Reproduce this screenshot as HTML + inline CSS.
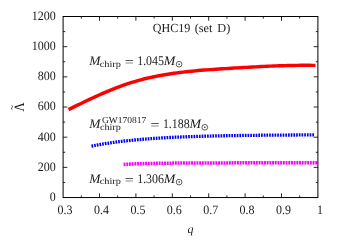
<!DOCTYPE html>
<html><head><meta charset="utf-8"><title>QHC19 (set D)</title>
<style>
html,body{margin:0;padding:0;background:#fff;}
body{width:343px;height:240px;overflow:hidden;}
svg{display:block;will-change:transform;opacity:0.999;}
text{font-family:"Liberation Serif",serif;fill:#1a1a1a;text-rendering:geometricPrecision;}
.it{font-style:italic;}
</style></head><body>
<svg width="343" height="240" viewBox="0 0 343 240">
<path d="M68.50 109.62 L71.51 108.13 L74.52 106.64 L77.54 105.16 L80.55 103.69 L83.56 102.23 L86.57 100.78 L89.59 99.36 L92.60 97.95 L95.61 96.57 L98.62 95.21 L101.63 93.88 L104.65 92.58 L107.66 91.31 L110.67 90.07 L113.68 88.87 L116.70 87.70 L119.71 86.58 L122.72 85.49 L125.73 84.44 L128.74 83.43 L131.76 82.46 L134.77 81.54 L137.78 80.66 L140.79 79.82 L143.80 79.04 L146.82 78.29 L149.83 77.59 L152.84 76.94 L155.85 76.32 L158.87 75.74 L161.88 75.19 L164.89 74.68 L167.90 74.19 L170.91 73.73 L173.93 73.29 L176.94 72.88 L179.95 72.50 L182.96 72.13 L185.98 71.79 L188.99 71.46 L192.00 71.16 L195.01 70.87 L198.02 70.59 L201.04 70.33 L204.05 70.08 L207.06 69.85 L210.07 69.63 L213.09 69.41 L216.10 69.20 L219.11 69.01 L222.12 68.81 L225.13 68.62 L228.15 68.44 L231.16 68.25 L234.17 68.07 L237.18 67.89 L240.20 67.71 L243.21 67.53 L246.22 67.36 L249.23 67.19 L252.24 67.02 L255.26 66.86 L258.27 66.70 L261.28 66.55 L264.29 66.40 L267.30 66.27 L270.32 66.13 L273.33 66.01 L276.34 65.90 L279.35 65.79 L282.37 65.69 L285.38 65.61 L288.39 65.53 L291.40 65.46 L294.41 65.41 L297.43 65.37 L300.44 65.34 L303.45 65.32 L306.46 65.32 L309.48 65.33 L312.49 65.36 L315.50 65.40" fill="none" stroke="#ff0000" stroke-width="3.45" stroke-linejoin="round"/>
<path d="M91.50 146.09 L94.51 145.50 L97.52 144.93 L100.53 144.40 L103.54 143.89 L106.55 143.41 L109.56 142.95 L112.57 142.52 L115.58 142.11 L118.59 141.72 L121.59 141.35 L124.60 141.01 L127.61 140.68 L130.62 140.36 L133.63 140.07 L136.64 139.78 L139.65 139.52 L142.66 139.26 L145.67 139.03 L148.68 138.80 L151.69 138.58 L154.70 138.38 L157.71 138.19 L160.72 138.00 L163.73 137.83 L166.74 137.67 L169.75 137.51 L172.76 137.36 L175.76 137.22 L178.77 137.09 L181.78 136.97 L184.79 136.85 L187.80 136.73 L190.81 136.63 L193.82 136.53 L196.83 136.43 L199.84 136.34 L202.85 136.25 L205.86 136.17 L208.87 136.09 L211.88 136.02 L214.89 135.95 L217.90 135.88 L220.91 135.82 L223.92 135.76 L226.93 135.71 L229.94 135.65 L232.94 135.60 L235.95 135.55 L238.96 135.51 L241.97 135.47 L244.98 135.43 L247.99 135.39 L251.00 135.35 L254.01 135.32 L257.02 135.28 L260.03 135.25 L263.04 135.22 L266.05 135.20 L269.06 135.17 L272.07 135.14 L275.08 135.12 L278.09 135.10 L281.10 135.08 L284.11 135.06 L287.11 135.04 L290.12 135.02 L293.13 135.00 L296.14 134.98 L299.15 134.97 L302.16 134.95 L305.17 134.94 L308.18 134.93 L311.19 134.92 L314.20 134.90" fill="none" stroke="#0000ff" stroke-width="3.3" stroke-dasharray="1.7 1.0" stroke-linejoin="round"/>
<path d="M123.60 164.40 L126.58 164.24 L129.57 164.10 L132.55 163.98 L135.54 163.87 L138.52 163.77 L141.51 163.67 L144.49 163.59 L147.48 163.52 L150.46 163.45 L153.45 163.39 L156.43 163.34 L159.42 163.29 L162.40 163.24 L165.38 163.20 L168.37 163.17 L171.35 163.13 L174.34 163.10 L177.32 163.08 L180.31 163.05 L183.29 163.03 L186.28 163.01 L189.26 163.00 L192.25 162.98 L195.23 162.97 L198.22 162.95 L201.20 162.94 L204.18 162.93 L207.17 162.92 L210.15 162.91 L213.14 162.91 L216.12 162.90 L219.11 162.89 L222.09 162.89 L225.08 162.88 L228.06 162.88 L231.05 162.87 L234.03 162.87 L237.02 162.87 L240.00 162.86 L242.98 162.86 L245.97 162.86 L248.95 162.86 L251.94 162.86 L254.92 162.85 L257.91 162.85 L260.89 162.85 L263.88 162.85 L266.86 162.85 L269.85 162.85 L272.83 162.85 L275.82 162.84 L278.80 162.84 L281.78 162.84 L284.77 162.84 L287.75 162.84 L290.74 162.84 L293.72 162.84 L296.71 162.84 L299.69 162.84 L302.68 162.84 L305.66 162.84 L308.65 162.84 L311.63 162.84 L314.62 162.84 L317.60 162.84" fill="none" stroke="#ff00ff" stroke-width="3.5" stroke-dasharray="1.9 0.8" stroke-linejoin="round"/>
<g stroke="#000" stroke-width="1" fill="none">
<rect x="63.10" y="16.50" width="254.80" height="181.05"/>
<path d="M81.30 197.55v-2.10 M81.30 16.50v2.10 M99.50 197.55v-4.20 M99.50 16.50v4.20 M117.70 197.55v-2.10 M117.70 16.50v2.10 M135.90 197.55v-4.20 M135.90 16.50v4.20 M154.10 197.55v-2.10 M154.10 16.50v2.10 M172.30 197.55v-4.20 M172.30 16.50v4.20 M190.50 197.55v-2.10 M190.50 16.50v2.10 M208.70 197.55v-4.20 M208.70 16.50v4.20 M226.90 197.55v-2.10 M226.90 16.50v2.10 M245.10 197.55v-4.20 M245.10 16.50v4.20 M263.30 197.55v-2.10 M263.30 16.50v2.10 M281.50 197.55v-4.20 M281.50 16.50v4.20 M299.70 197.55v-2.10 M299.70 16.50v2.10 M63.10 182.46h2.10 M317.90 182.46h-2.10 M63.10 167.38h4.20 M317.90 167.38h-4.20 M63.10 152.29h2.10 M317.90 152.29h-2.10 M63.10 137.20h4.20 M317.90 137.20h-4.20 M63.10 122.11h2.10 M317.90 122.11h-2.10 M63.10 107.03h4.20 M317.90 107.03h-4.20 M63.10 91.94h2.10 M317.90 91.94h-2.10 M63.10 76.85h4.20 M317.90 76.85h-4.20 M63.10 61.76h2.10 M317.90 61.76h-2.10 M63.10 46.67h4.20 M317.90 46.67h-4.20 M63.10 31.59h2.10 M317.90 31.59h-2.10 " stroke-width="0.85"/>
</g>
<text x="49.80" y="200.85" font-size="12.8" textLength="6.00" lengthAdjust="spacingAndGlyphs">0</text>
<text x="37.80" y="170.68" font-size="12.8" textLength="18.00" lengthAdjust="spacingAndGlyphs">200</text>
<text x="37.80" y="140.50" font-size="12.8" textLength="18.00" lengthAdjust="spacingAndGlyphs">400</text>
<text x="37.80" y="110.33" font-size="12.8" textLength="18.00" lengthAdjust="spacingAndGlyphs">600</text>
<text x="37.80" y="80.15" font-size="12.8" textLength="18.00" lengthAdjust="spacingAndGlyphs">800</text>
<text x="31.80" y="49.97" font-size="12.8" textLength="24.00" lengthAdjust="spacingAndGlyphs">1000</text>
<text x="31.80" y="19.80" font-size="12.8" textLength="24.00" lengthAdjust="spacingAndGlyphs">1200</text>
<text x="57.60" y="213.5" font-size="12.8" textLength="15.00" lengthAdjust="spacingAndGlyphs">0.3</text>
<text x="94.00" y="213.5" font-size="12.8" textLength="15.00" lengthAdjust="spacingAndGlyphs">0.4</text>
<text x="130.40" y="213.5" font-size="12.8" textLength="15.00" lengthAdjust="spacingAndGlyphs">0.5</text>
<text x="166.80" y="213.5" font-size="12.8" textLength="15.00" lengthAdjust="spacingAndGlyphs">0.6</text>
<text x="203.20" y="213.5" font-size="12.8" textLength="15.00" lengthAdjust="spacingAndGlyphs">0.7</text>
<text x="239.60" y="213.5" font-size="12.8" textLength="15.00" lengthAdjust="spacingAndGlyphs">0.8</text>
<text x="276.00" y="213.5" font-size="12.8" textLength="15.00" lengthAdjust="spacingAndGlyphs">0.9</text>
<text x="316.90" y="213.5" font-size="12.8" textLength="6.00" lengthAdjust="spacingAndGlyphs">1</text>
<text x="190.6" y="232.9" font-size="11.9" text-anchor="middle" class="it">q</text>
<g transform="translate(23.9,106.45) rotate(-90)"><text x="0" y="0" font-size="14.3" text-anchor="middle" transform="translate(-0.4 0) scale(0.88 1)">Λ</text><path d="M-3.3 -11.55 C-2.7 -12.7 -1.9 -12.6 -1.05 -11.9 S0.6 -11.2 1.2 -12.35" fill="none" stroke="#1a1a1a" stroke-width="0.75"/></g>
<text x="152.70" y="31.50" font-size="12.3" textLength="37.60" lengthAdjust="spacingAndGlyphs">QHC19</text><text x="194.70" y="31.50" font-size="12.3" textLength="17.80" lengthAdjust="spacingAndGlyphs">(set</text><text x="217.30" y="31.50" font-size="12.3" textLength="13.00" lengthAdjust="spacingAndGlyphs">D)</text>
<text x="89.30" y="64.90" font-size="13.0" textLength="11.20" lengthAdjust="spacingAndGlyphs" class="it">M</text><text x="99.70" y="66.50" font-size="9.1" textLength="21.20" lengthAdjust="spacingAndGlyphs">chirp</text><text x="124.70" y="65.70" font-size="13.0" textLength="9.00" lengthAdjust="spacingAndGlyphs">=</text><text x="137.20" y="64.90" font-size="13.2" textLength="26.80" lengthAdjust="spacingAndGlyphs">1.045</text><text x="163.70" y="64.90" font-size="13.0" textLength="11.60" lengthAdjust="spacingAndGlyphs" class="it">M</text><circle cx="179.10" cy="64.20" r="2.85" fill="none" stroke="#1a1a1a" stroke-width="0.7"/><circle cx="179.10" cy="64.20" r="0.75" fill="#1a1a1a"/>
<text x="89.30" y="128.00" font-size="13.0" textLength="11.20" lengthAdjust="spacingAndGlyphs" class="it">M</text><text x="99.90" y="130.10" font-size="9.1" textLength="21.00" lengthAdjust="spacingAndGlyphs">chirp</text><text x="101.90" y="123.30" font-size="9.1" textLength="44.40" lengthAdjust="spacingAndGlyphs">GW170817</text><text x="150.40" y="128.80" font-size="13.0" textLength="9.00" lengthAdjust="spacingAndGlyphs">=</text><text x="162.90" y="128.00" font-size="13.2" textLength="26.80" lengthAdjust="spacingAndGlyphs">1.188</text><text x="189.40" y="128.00" font-size="13.0" textLength="11.60" lengthAdjust="spacingAndGlyphs" class="it">M</text><circle cx="204.80" cy="127.30" r="2.85" fill="none" stroke="#1a1a1a" stroke-width="0.7"/><circle cx="204.80" cy="127.30" r="0.75" fill="#1a1a1a"/>
<text x="89.30" y="182.80" font-size="13.0" textLength="11.20" lengthAdjust="spacingAndGlyphs" class="it">M</text><text x="99.70" y="184.40" font-size="9.1" textLength="21.20" lengthAdjust="spacingAndGlyphs">chirp</text><text x="124.70" y="183.60" font-size="13.0" textLength="9.00" lengthAdjust="spacingAndGlyphs">=</text><text x="137.20" y="182.80" font-size="13.2" textLength="26.80" lengthAdjust="spacingAndGlyphs">1.306</text><text x="163.70" y="182.80" font-size="13.0" textLength="11.60" lengthAdjust="spacingAndGlyphs" class="it">M</text><circle cx="179.10" cy="182.10" r="2.85" fill="none" stroke="#1a1a1a" stroke-width="0.7"/><circle cx="179.10" cy="182.10" r="0.75" fill="#1a1a1a"/>
</svg>
</body></html>
